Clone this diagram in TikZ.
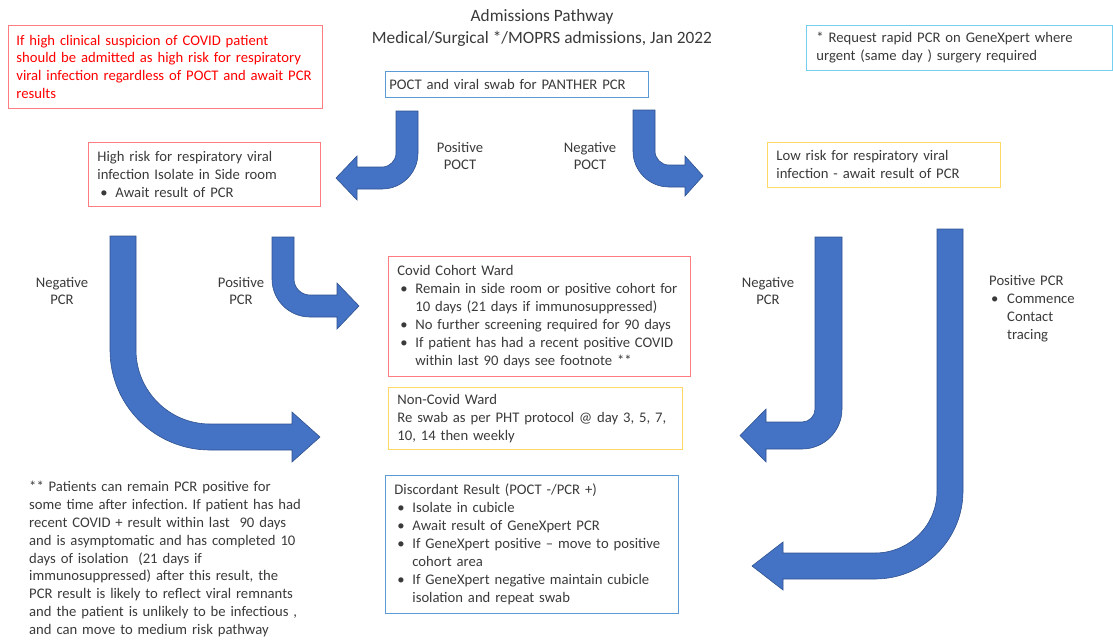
\documentclass[tikz,border=0pt]{standalone}
\usepackage{fontspec}
\setmainfont{Carlito}
\frenchspacing
\definecolor{arrowblue}{HTML}{4472C4}
\definecolor{arrowedge}{HTML}{2F528F}
\definecolor{boxred}{HTML}{FF7C80}
\definecolor{boxgold}{HTML}{FFD966}
\definecolor{boxblue}{HTML}{5B9BD5}
\definecolor{boxcyan}{HTML}{75CFF0}
\definecolor{ink}{HTML}{3A3A3A}
\definecolor{alertred}{HTML}{FF0000}
\newcommand\bodyfont{\fontsize{14.67pt}{17.9pt}\selectfont}
\newcommand\titlefont{\fontsize{17.3pt}{22pt}\selectfont}
% bullet item and continuation indent
\newcommand\bpt{\makebox[18pt][l]{\hspace{3pt}\textbullet}}
\newcommand\bind{\hspace*{18pt}}
\begin{document}
\begin{tikzpicture}[x=1pt,y=1pt,
  txt/.style={font=\bodyfont, text=ink, inner sep=0pt},
  lbl/.style={txt, align=center},
  box/.style={txt, draw, line width=0.8pt, anchor=north west, align=left,
    inner xsep=9pt, inner ysep=0pt},
  redbox/.style={box, draw=boxred},
  goldbox/.style={box, draw=boxgold},
  bluebox/.style={box, draw=boxblue},
  blockarrow/.style={fill=arrowblue, draw=arrowedge, line width=0.6pt, line join=miter}
]
\useasboundingbox (0,0) rectangle (1113,-643);

% ---------- title ----------
\node[lbl, font=\titlefont] (title) at (542,-28)
  {Admissions Pathway\\Medical/Surgical */MOPRS admissions, Jan 2022};

% ---------- boxes ----------
\node[redbox, text=alertred, inner xsep=8pt, minimum width=314pt, minimum height=83pt, text width=298pt]
  (note) at (8,-25)
  {If high clinical suspicion of COVID patient\\
   should be admitted as high risk for respiratory\\
   viral infection regardless of POCT and await PCR\\
   results};

\node[bluebox, inner xsep=4pt, minimum width=263pt, minimum height=26pt, text width=255pt]
  (poct) at (385,-71) {POCT and viral swab for PANTHER PCR};

\node[box, draw=boxcyan, inner xsep=10pt, minimum width=306pt, minimum height=45pt, text width=286pt]
  (gx) at (806,-25)
  {* Request rapid PCR on GeneXpert where\\
   urgent (same day ) surgery required};

\node[redbox, minimum width=232pt, minimum height=64pt, text width=214pt]
  (high) at (88,-142)
  {High risk for respiratory viral\\
   infection Isolate in Side room\\
   \bpt Await result of PCR};

\node[goldbox, minimum width=233pt, minimum height=45pt, text width=215pt]
  (low) at (767,-142)
  {Low risk for respiratory viral\\
   infection - await result of PCR};

\node[redbox, minimum width=302pt, minimum height=120pt, text width=284pt]
  (cohort) at (388,-256)
  {Covid Cohort Ward\\
   \bpt Remain in side room or positive cohort for\\
   \bind 10 days (21 days if immunosuppressed)\\
   \bpt No further screening required for 90 days\\
   \bpt If patient has had a recent positive COVID\\
   \bind within last 90 days see footnote **};

\node[goldbox, minimum width=294pt, minimum height=62pt, text width=276pt]
  (noncovid) at (388,-387)
  {Non-Covid Ward\\
   Re swab as per PHT protocol @ day 3, 5, 7,\\
   10, 14 then weekly};

\node[bluebox, minimum width=293pt, minimum height=138pt, text width=275pt]
  (discord) at (385,-475)
  {Discordant Result (POCT -/PCR +)\\
   \bpt Isolate in cubicle\\
   \bpt Await result of GeneXpert PCR\\
   \bpt If GeneXpert positive -- move to positive\\
   \bind cohort area\\
   \bpt If GeneXpert negative maintain cubicle\\
   \bind isolation and repeat swab};

% ---------- free labels ----------
\node[lbl] (pospoct) at (460,-156) {Positive\\POCT};
\node[lbl] (negpoct) at (590,-156) {Negative\\POCT};
\node[lbl] (negpcrL) at (62,-291) {Negative\\PCR};
\node[lbl] (pospcrL) at (241,-291) {Positive\\PCR};
\node[lbl] (negpcrR) at (768,-291) {Negative\\PCR};
\node[txt, anchor=west, align=left, text width=120pt] (pospcrR) at (989,-309)
  {Positive PCR\\
   \makebox[18pt][l]{\hspace{2pt}\textbullet}Commence\\
   \bind Contact\\
   \bind tracing};

\node[txt, anchor=west, align=left, text width=310pt] (foot) at (29,-559)
  {** Patients can remain PCR positive for\\
   some time after infection. If patient has had\\
   recent COVID + result within last~~90 days\\
   and is asymptomatic and has completed 10\\
   days of isolation~~(21 days if\\
   immunosuppressed) after this result, the\\
   PCR result is likely to reflect viral remnants\\
   and the patient is unlikely to be infectious ,\\
   and can move to medium risk pathway};

% ---------- bent block arrows ----------
% positive POCT: down, then left
\draw[blockarrow] (396,-111) -- (418,-111) -- (418,-153)
  arc[start angle=0, end angle=-90, radius=36] -- (357,-189) -- (357,-200)
  -- (336,-178) -- (357,-156) -- (357,-167) -- (382,-167)
  arc[start angle=-90, end angle=0, radius=14] -- cycle;

% negative POCT: down, then right
\draw[blockarrow] (633,-110) -- (655,-110) -- (655,-151)
  arc[start angle=180, end angle=270, radius=14] -- (685,-165) -- (685,-156)
  -- (703,-176) -- (685,-196) -- (685,-187) -- (669,-187)
  arc[start angle=270, end angle=180, radius=36] -- cycle;

% negative PCR from high risk: long drop, then right
\draw[blockarrow] (110,-236) -- (136,-236) -- (136,-350)
  arc[start angle=180, end angle=270, radius=74] -- (292,-424) -- (292,-412)
  -- (320,-437) -- (292,-462) -- (292,-450) -- (210,-450)
  arc[start angle=270, end angle=180, radius=100] -- cycle;

% positive PCR from high risk: short drop, then right
\draw[blockarrow] (272,-237) -- (294,-237) -- (294,-279)
  arc[start angle=180, end angle=270, radius=16] -- (337,-295) -- (337,-283)
  -- (359,-306) -- (337,-329) -- (337,-317) -- (310,-317)
  arc[start angle=270, end angle=180, radius=38] -- cycle;

% negative PCR from low risk: drop, then left
\draw[blockarrow] (815,-237) -- (842,-237) -- (842,-409)
  arc[start angle=0, end angle=-90, radius=40] -- (766,-449) -- (766,-462)
  -- (740,-435.5) -- (766,-409) -- (766,-422) -- (802,-422)
  arc[start angle=-90, end angle=0, radius=13] -- cycle;

% positive PCR from low risk: long drop, then left
\draw[blockarrow] (937,-229) -- (963,-229) -- (963,-491)
  arc[start angle=0, end angle=-90, radius=88] -- (783,-579) -- (783,-590)
  -- (752,-566) -- (783,-542) -- (783,-553) -- (875,-553)
  arc[start angle=-90, end angle=0, radius=62] -- cycle;
\end{tikzpicture}
\end{document}
